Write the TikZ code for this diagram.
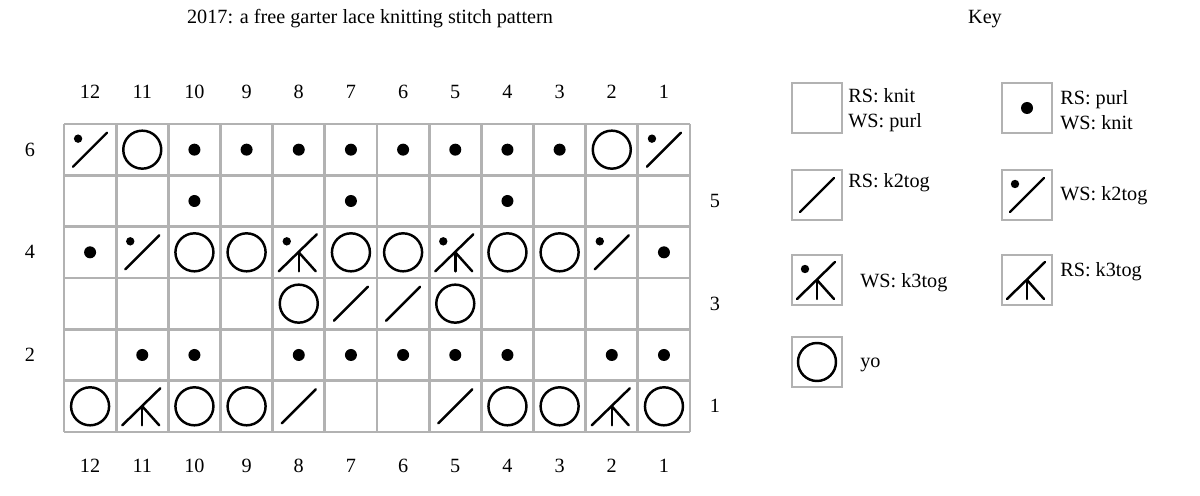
\documentclass[tikz,border=0pt]{standalone}
\usepackage{fontspec}
\setmainfont{Liberation Serif}
\tikzset{
  gridln/.style={draw=black!30, line width=1.6pt},
  sym/.style={line width=1.4pt, line cap=round},
  lbl/.style={font=\fontsize{11.5}{14}\selectfont, inner sep=0pt},
  keytxt/.style={font=\fontsize{11.5}{14}\selectfont, inner sep=0pt, anchor=west, align=left}
}
\newcommand\SKslash[1]{\draw[sym] ($(#1)+(-17,17)$) -- ($(#1)+(17,-17)$);}
\newcommand\SKdot[1]{\fill ($(#1)$) circle (6);}
\newcommand\SKwsdot[1]{\fill ($(#1)+(-12,-11)$) circle (4.2);}
\newcommand\SKyo[1]{\draw[sym] ($(#1)$) circle (19);}
\newcommand\SKkiii[1]{\draw[sym] ($(#1)+(-20,19)$) -- ($(#1)+(18,-18)$);
  \draw[sym] ($(#1)+(0,0)$) -- ($(#1)+(0,19)$);
  \draw[sym] ($(#1)+(0,0)$) -- ($(#1)+(17,19)$);}
\usetikzlibrary{calc}
\begin{document}
\begin{tikzpicture}[x=0.02cm,y=-0.02cm]
\useasboundingbox (0,0) rectangle (1200,496);
\def\cw{52.17}\def\ch{51.33}
% title
\node[lbl] (title) at (370,19) {2017: a free garter lace knitting stitch pattern};
\node[lbl] (key) at (985,19) {Key};
% grid
\foreach \i in {0,...,12} \draw[gridln] ({64+\i*\cw},124) -- ({64+\i*\cw},432);
\foreach \j in {0,...,6} \draw[gridln] (64,{124+\j*\ch}) -- (690,{124+\j*\ch});
% column numbers
\foreach \c in {1,...,12} {
  \node[lbl] at ({64+(12-\c+0.5)*\cw},92) {\c};
  \node[lbl] at ({64+(12-\c+0.5)*\cw},466) {\c};
}
\foreach \r in {2,4,6} \node[lbl] at (30,{124+(6-\r+0.5)*\ch}) {\r};
\foreach \r in {1,3,5} \node[lbl] at (715,{124+(6-\r+0.5)*\ch}) {\r};
% cell centers
\foreach \c in {1,...,12} \foreach \r in {1,...,6}
  \coordinate (c\c r\r) at ({64+(12-\c+0.5)*\cw},{124+(6-\r+0.5)*\ch});
% row 6
\SKslash{c12r6}\SKwsdot{c12r6}
\SKyo{c11r6}
\foreach \c in {3,...,10} {\SKdot{c\c r6}}
\SKyo{c2r6}
\SKslash{c1r6}\SKwsdot{c1r6}
% row 5
\foreach \c in {10,7,4} {\SKdot{c\c r5}}
% row 4
\SKdot{c12r4}\SKdot{c1r4}
\SKslash{c11r4}\SKwsdot{c11r4}
\SKslash{c2r4}\SKwsdot{c2r4}
\foreach \c in {10,9,7,6,4,3} {\SKyo{c\c r4}}
\SKkiii{c8r4}\SKwsdot{c8r4}
\SKkiii{c5r4}\SKwsdot{c5r4}
% row 3
\SKyo{c8r3}\SKyo{c5r3}\SKslash{c7r3}\SKslash{c6r3}
% row 2
\foreach \c in {11,10,8,7,6,5,4,2,1} {\SKdot{c\c r2}}
% row 1
\foreach \c in {12,10,9,4,3,1} {\SKyo{c\c r1}}
\SKkiii{c11r1}\SKkiii{c2r1}
\SKslash{c8r1}\SKslash{c5r1}
% key
\foreach \n/\x/\y in {ka/817/108, kb/1027/108, kc/817/195, kd/1027/195, ke/817/280, kf/1027/280, kg/817/362}
  \draw[gridln] (\x-25,\y-25) rectangle (\x+25,\y+25) coordinate[pos=0.5] (\n) ;
\coordinate (ka) at (817,108);\coordinate (kb) at (1027,108);
\coordinate (kc) at (817,195);\coordinate (kd) at (1027,195);
\coordinate (ke) at (817,280);\coordinate (kf) at (1027,280);
\coordinate (kg) at (817,362);
\SKdot{kb}
\SKslash{kc}
\SKslash{kd}\SKwsdot{kd}
\SKkiii{ke}\SKwsdot{ke}
\SKkiii{kf}
\SKyo{kg}
\node[keytxt] (ta) at (848,110) {RS: knit\\WS: purl};
\node[keytxt] (tb) at (1060,110) {RS: purl\\WS: knit};
\node[keytxt] (tc) at (848,183) {RS: k2tog};
\node[keytxt] (td) at (1060,196) {WS: k2tog};
\node[keytxt] (te) at (860,283) {WS: k3tog};
\node[keytxt] (tf) at (1060,272) {RS: k3tog};
\node[keytxt] (tg) at (860,365) {yo};
\end{tikzpicture}
\end{document}
